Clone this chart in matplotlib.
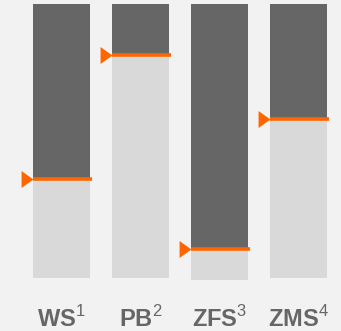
import matplotlib
matplotlib.use('Agg')
import matplotlib.pyplot as plt

# categories and values (percent of bar height)
labels = ['WS', 'PB', 'ZFS', 'ZMS']
notes = ['1', '2', '3', '4']
levels = [36.2, 81.4, 10.5, 58.0]   # orange marker position
bottoms = [0, 0, -0.7, 0]
tops = [100, 100, 100, 100]

plt.rcParams['mathtext.fontset'] = 'custom'
plt.rcParams['mathtext.rm'] = 'Liberation Sans'

fig = plt.figure(figsize=(3.41, 3.31), dpi=100, facecolor='#f2f2f2')
ax = fig.add_axes([0, 0, 1, 1])
ax.set_facecolor('#f2f2f2')

x = list(range(len(labels)))
width = 57 / 79

# light part below the marker, dark part above it
ax.bar(x, [l - b for l, b in zip(levels, bottoms)], width, bottom=bottoms,
       color='#d9d9d9', linewidth=0)
ax.bar(x, [t - l for t, l in zip(tops, levels)], width, bottom=levels,
       color='#666666', linewidth=0)

# orange level line + triangle pointer
for xi, lv in zip(x, levels):
    ax.plot([xi - width / 2, xi + width / 2 + 0.025], [lv, lv],
            color='#ff6600', lw=2.6, solid_capstyle='butt')
tri = [(-0.7, -1), (-0.7, 1), (0.7, 0), (-0.7, -1)]
ax.plot([xi - width / 2 - 0.076 for xi in x], levels, linestyle='none',
        marker=tri, markersize=12.2, color='#ff6600', markeredgewidth=0)

for xi, lab, n in zip(x, labels, notes):
    ax.text(xi, -17.8, lab + r'$^{\mathrm{' + n + '}}$', ha='center', va='baseline',
            fontsize=17, fontweight='bold', color='#666666', family='Liberation Sans')

ax.set_xlim(-0.778, -0.778 + 341 / 79)
ax.set_ylim(-19.47, 101.46)
ax.axis('off')

plt.savefig('out.png', dpi=100, facecolor='#f2f2f2')
